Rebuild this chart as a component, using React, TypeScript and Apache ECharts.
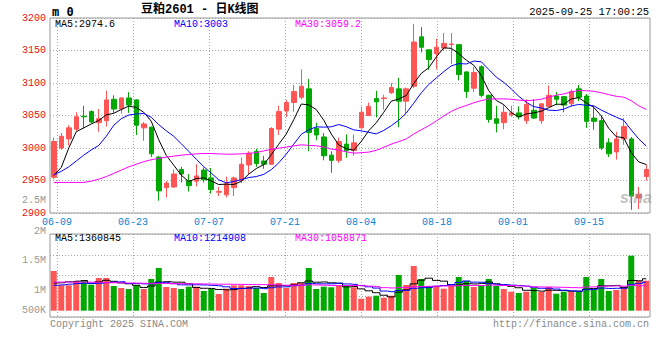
import React, { useEffect, useRef } from 'react';
import * as echarts from 'echarts';

const dates = ['06-06','06-09','06-10','06-11','06-12','06-13','06-16','06-17','06-18','06-19','06-20','06-23','06-24','06-25','06-26','06-27','06-30',
'07-01','07-02','07-03','07-04','07-07','07-08','07-09','07-10','07-11','07-14','07-15','07-16','07-17','07-18','07-21','07-22','07-23','07-24','07-25','07-28','07-29','07-30','07-31',
'08-01','08-04','08-05','08-06','08-07','08-08','08-11','08-12','08-13','08-14','08-15','08-18','08-19','08-20','08-21','08-22','08-25','08-26','08-27','08-28','08-29',
'09-01','09-02','09-03','09-04','09-05','09-08','09-09','09-10','09-11','09-12','09-15','09-16','09-17','09-18','09-19','09-22','09-23','09-24','09-25'];

const opens = [2955,3000,3014,3029,3049,3056,3039,3042,3075,3060,
3077,3074,3031,3032,2986,2939,2940,2967,2950,2949,
2966,2954,2932,2928,2939,2950,2974,2995,2980,2975,
3029,3057,3070,3078,3091,3030,3017,2989,2981,3006,
2996,3031,3050,3076,3076,3085,3091,3072,3095,3171,
3151,3145,3154,3159,3159,3117,3092,3125,3081,3045,
3039,3051,3054,3042,3058,3042,3064,3080,3079,3068,
3091,3080,3046,3042,3008,2994,3014,3014,2923,2956];

const closes = [3010,3018,3031,3048,3048,3040,3045,3074,3060,3077,
3066,3035,3037,2991,2934,2946,2960,2960,2942,2957,
2951,2936,2933,2945,2954,2975,2992,2976,2975,3030,
3056,3070,3087,3095,3024,3020,2988,2981,3010,2996,
3008,3055,3064,3071,3077,3093,3072,3091,3163,3155,
3136,3155,3161,3160,3113,3087,3116,3081,3044,3038,
3055,3054,3048,3067,3046,3068,3081,3075,3066,3087,
3078,3041,3041,3000,2991,3014,3033,2926,2929,2967];

const lows = [2952,2997,3004,3026,3030,3038,3025,3033,3054,3053,
3054,3020,3011,2986,2919,2924,2939,2947,2933,2941,
2947,2930,2926,2924,2926,2946,2959,2971,2968,2974,
3020,3048,3056,3075,2995,3012,2981,2962,2977,2985,
2988,3030,3049,3047,3059,3083,3032,3052,3092,3147,
3120,3121,3150,3129,3104,3077,3086,3078,3039,3024,
3029,3048,3044,3037,3045,3037,3063,3066,3055,3064,
3072,3031,3028,2997,2986,2982,3005,2905,2906,2950];

const highs = [3016,3023,3035,3055,3065,3058,3060,3088,3081,3078,
3086,3075,3040,3033,2988,2949,2967,2971,2960,2975,
2970,2969,2940,2956,2956,2985,2995,2999,2988,3032,
3065,3074,3097,3121,3106,3039,3023,2995,3016,3021,
3021,3063,3070,3088,3082,3100,3108,3093,3191,3186,
3152,3168,3177,3177,3160,3118,3125,3127,3082,3065,
3066,3065,3064,3075,3075,3068,3096,3086,3080,3090,
3097,3083,3064,3050,3015,3025,3046,3017,2940,2975];

const ma5 = [2958,2970,3000,3025,3031,3037,3042.4,3051,3053.4,3059.2,
3064.4,3062.4,3055,3041.2,3012.6,2988.6,2973.6,2958.2,2948.4,2953,
2954,2949.2,2943.8,2944.4,2943.8,2948.6,2959.8,2968.4,2974.4,2989.6,
3005.8,3021.4,3043.6,3067.6,3066.4,3059.2,3042.8,3021.6,3004.6,2999,
2996.6,3010,3026.6,3038.8,3055,3072,3075.4,3080.8,3099.2,3114.8,
3123.4,3140,3154,3153.4,3145,3135.2,3127.4,3111.4,3088.2,3073.2,
3066.8,3054.4,3047.8,3052.4,3054,3056.6,3062,3067.4,3067.2,3075.4,
3077.4,3069.4,3062.6,3049.4,3030.2,3017.4,3015.8,2992.8,2978.6,2974.6];

const ma10 = [2959,2964,2971,2980,2989,2997,3004,3018,3035,3045.1,
3050.7,3052.4,3053,3047.3,3035.9,3026.5,3018,3006.6,2994.8,2982.8,
2971.3,2961.4,2951,2946.4,2948.4,2951.3,2954.5,2956.1,2959.4,2966.7,
2977.2,2990.6,3006,3021,3028,3032.5,3032.1,3032.6,3036.1,3032.7,
3027.9,3026.4,3024.1,3021.7,3027,3034.3,3042.7,3053.7,3069,3084.9,
3097.7,3107.7,3117.4,3126.3,3129.9,3129.3,3133.7,3132.7,3120.8,3109.1,
3101,3090.9,3079.6,3070.3,3063.6,3061.7,3058.2,3057.6,3059.8,3064.7,
3067,3065.7,3065,3058.3,3052.8,3047.4,3042.6,3027.7,3014,3003];

const ma30 = [2947,2947,2947,2947,2947,2949,2952,2956,2961,2966,
2971,2975,2979,2982,2984,2986,2987.5,2989,2990,2991,
2991.5,2991.5,2991,2990.5,2990.5,2991,2991.5,2993,2995.5,2998.2,
2999.7,3001.5,3003.3,3004.9,3004.1,3003.4,3001.5,2998.4,2996.8,2994.1,
2992.1,2992.8,2993.7,2996.4,3001.1,3006,3009.8,3014.1,3021.5,3028.1,
3034.3,3041.6,3049.2,3056.3,3061.6,3065.4,3069.5,3073,3075.3,3075.6,
3075.5,3075,3073.7,3072.8,3073.5,3075.1,3078.2,3081.3,3083.2,3086.2,
3088.6,3088.1,3087.3,3085,3082.1,3079.5,3078.2,3072.7,3064.9,3059.2];

// volume, thousands
const volumes = [1693,1083,1083,1267,1309,1109,1394,1394,1053,968,
925,1083,925,1352,1821,1011,968,925,1023,1023,
840,925,712,938,1083,1083,1053,968,755,1437,
1181,968,1181,1181,1821,925,1023,998,1053,1083,
998,512,597,640,554,640,1522,1096,1906,1352,
1053,1053,938,1053,1437,1267,1011,1053,1352,1053,
925,810,755,810,981,810,1011,725,810,810,
810,1437,883,1352,840,883,1023,2345,1279,1279];

const volMa5 = [1180,1190,1230,1260,1287,1170,1232,1295,1252,1184,
1147,1085,991,1051,1221,1238,1215,1215,1150,990,
956,947,905,888,900,948,974,1025,988,1059,
1079,1062,1104,1190,1266,1215,1226,1190,1164,1016,
1031,929,849,766,660,589,791,890,1144,1303,
1386,1292,1260,1090,1107,1150,1141,1164,1224,1147,
1079,1039,979,871,856,833,873,867,867,833,
833,918,950,1058,1064,1079,996,1289,1274,1361];

const volMa10 = [1083,1100,1130,1160,1170,1160,1170,1200,1220,1235,
1159,1159,1143,1151,1202,1193,1150,1103,1100,1106,
1097,1081,1060,1019,945,952,961,965,938,979,
1014,1018,1065,1089,1163,1147,1144,1147,1177,1141,
1123,1078,1019,965,838,810,860,870,955,982,
987,1041,1075,1117,1205,1268,1217,1212,1157,1127,
1114,1090,1072,1047,1002,956,956,923,869,845,
833,896,909,963,949,956,957,1119,1166,1215];

const volMa30 = [1220,1220,1220,1220,1220,1215,1210,1195,1190,1185,
1180,1175,1170,1168,1165,1160,1155,1150,1148,1145,
1140,1135,1130,1128,1125,1120,1115,1112,1110,1107,
1090,1086,1089,1086,1103,1097,1085,1072,1072,1075,
1078,1059,1048,1024,982,970,988,994,1023,1034,
1041,1046,1053,1057,1069,1075,1073,1076,1096,1083,
1075,1070,1055,1043,1015,1011,1011,1002,994,984,
978,1009,1019,1042,1052,1060,1043,1085,1064,1059];

const dateTicks = ['06-09','06-23','07-07','07-21','08-04','08-18','09-01','09-15'];
const priceMaNames = ['MA5', 'MA10', 'MA30'];
const priceMaLast = ['2974.6', '3003', '3059.2'];
const volMaLast = ['1360845', '1214908', '1058871'];
const volTickLabels = ['2.5M', '2M', '1.5M', '1M', '500K'];
const titleText = '豆粕2601 - 日K线图';
const codeText = 'm 0';
const timeText = '2025-09-25 17:00:25';
const copyrightText = 'Copyright 2025 SINA.COM';
const urlText = 'http://finance.sina.com.cn';

const RED = '#ff5555';
const GREEN = '#00a800';
const MA_COLORS = ['#000000', '#0000ff', '#ff00ff'];
const MONO = '"Liberation Mono", "DejaVu Sans Mono", monospace';
const GRID_LINE = { color: '#a8a8a8', type: [1, 2] as any, width: 1 };
const volTickY = [200.7, 231.5, 260.7, 290.7, 310.7];
const maLegendX = [55, 174, 295];

function txt(text: string, x: number, y: number, fill: string, extra: any = {}) {
  return {
    type: 'text', x, y, silent: true, z: 100,
    style: { text, fill, fontSize: 10, fontFamily: MONO, align: 'left', verticalAlign: 'middle', ...extra },
  };
}

export default function App() {
  const ref = useRef<HTMLDivElement>(null);
  useEffect(() => {
    const chart = echarts.init(ref.current!, null, { renderer: 'svg' });
    const up = (i: number) => closes[i] >= opens[i];
    const graphic: any[] = [
      txt(codeText, 52, 12, '#000', { fontSize: 12, fontWeight: 'bold', fontFamily: '"DejaVu Sans Mono", monospace' }),
      txt(titleText, 141, 10, '#000', { fontSize: 12, fontWeight: 'bold', fontFamily: '"Liberation Mono", "Noto Sans CJK SC", sans-serif' }),
      txt(timeText, 649, 12, '#000', { align: 'right', fontSize: 10.5 }),
      txt(copyrightText, 50, 324, '#888'),
      txt(urlText, 649, 324, '#888', { align: 'right' }),
      txt('sina', 636, 197, 'rgba(150,150,150,0.6)', { align: 'center', fontSize: 16, fontWeight: 'bold', fontStyle: 'italic', fontFamily: 'Arial, "Liberation Sans", sans-serif' }),
    ];
    priceMaNames.forEach((n, k) => {
      graphic.push(txt(`${n}:${priceMaLast[k]}`, maLegendX[k], 24.5, MA_COLORS[k]));
      graphic.push(txt(`${n}:${volMaLast[k]}`, maLegendX[k], 238.5, MA_COLORS[k]));
    });
    volTickLabels.forEach((l, k) => {
      graphic.push(txt(l, 46, volTickY[k], '#999', { align: 'right' }));
    });

    const lineSeries = (data: number[], color: string, xi: number, yi: number, step?: any) => ({
      type: 'line', data, xAxisIndex: xi, yAxisIndex: yi, symbol: 'none', showSymbol: false,
      silent: true, step: step || false, lineStyle: { color, width: 1 }, z: 5,
    });

    const option: any = {
      animation: false,
      backgroundColor: '#ffffff',
      grid: [
        { left: 50, top: 18, width: 600, height: 195, show: true, borderColor: '#999', borderWidth: 1, backgroundColor: 'transparent' },
        { left: 50, top: 234, width: 600, height: 76.7, show: false },
        { left: 50, top: 234, width: 600, height: 83, show: true, borderColor: '#999', borderWidth: 1, backgroundColor: 'transparent' },
        { left: 57, top: 18, width: 532, height: 195, show: false },
        { left: 57, top: 234, width: 532, height: 83, show: false },
      ],
      xAxis: [
        { type: 'category', gridIndex: 0, data: dates, boundaryGap: true, show: false },
        { type: 'category', gridIndex: 1, data: dates, boundaryGap: true, show: false },
        { type: 'value', gridIndex: 2, min: 0, max: 1, show: false },
        {
          type: 'category', gridIndex: 3, data: dateTicks, boundaryGap: false,
          axisLine: { show: false }, axisTick: { show: false },
          axisLabel: { interval: 0, color: '#0a84d6', fontSize: 10, fontFamily: MONO, margin: 4 },
          splitLine: { show: true, interval: 0, lineStyle: GRID_LINE },
        },
        {
          type: 'category', gridIndex: 4, data: dateTicks, boundaryGap: false,
          axisLine: { show: false }, axisTick: { show: false }, axisLabel: { show: false },
          splitLine: { show: true, interval: 0, lineStyle: GRID_LINE },
        },
      ],
      yAxis: [
        {
          type: 'value', gridIndex: 0, min: 2900, max: 3200, interval: 50,
          axisLine: { show: false }, axisTick: { show: false },
          axisLabel: { color: '#e81010', fontSize: 10, fontFamily: MONO, margin: 4, formatter: (v: number) => String(v) },
          splitLine: { show: true, lineStyle: GRID_LINE },
        },
        { type: 'value', gridIndex: 1, min: 0, max: 3270, show: false, splitLine: { show: false } },
        {
          type: 'value', gridIndex: 2, min: 0, max: 4, interval: 1,
          axisLine: { show: false }, axisTick: { show: false }, axisLabel: { show: false },
          splitLine: { show: true, lineStyle: GRID_LINE },
        },
        { type: 'value', gridIndex: 3, show: false, splitLine: { show: false } },
        { type: 'value', gridIndex: 4, show: false, splitLine: { show: false } },
      ],
      series: [
        {
          type: 'candlestick', xAxisIndex: 0, yAxisIndex: 0, barWidth: 5, silent: true, z: 3,
          data: dates.map((_, i) => [opens[i], closes[i], lows[i], highs[i]]),
          itemStyle: { color: RED, color0: GREEN, borderColor: RED, borderColor0: GREEN, borderWidth: 1 },
        },
        lineSeries(ma5, MA_COLORS[0], 0, 0),
        lineSeries(ma10, MA_COLORS[1], 0, 0),
        lineSeries(ma30, MA_COLORS[2], 0, 0),
        {
          type: 'bar', xAxisIndex: 1, yAxisIndex: 1, barWidth: 6, silent: true, z: 3,
          data: volumes.map((v, i) => ({ value: v, itemStyle: { color: up(i) ? RED : GREEN } })),
        },
        lineSeries(volMa5, MA_COLORS[0], 1, 1, 'middle'),
        lineSeries(volMa10, MA_COLORS[1], 1, 1, 'middle'),
        lineSeries(volMa30, MA_COLORS[2], 1, 1, 'middle'),
      ],
      graphic,
    };
    chart.setOption(option);
    return () => chart.dispose();
  }, []);
  return (
    <div
      ref={ref}
      style={{ position: 'fixed', left: 0, top: 0, width: 660, height: 360, background: '#fff' }}
    />
  );
}
